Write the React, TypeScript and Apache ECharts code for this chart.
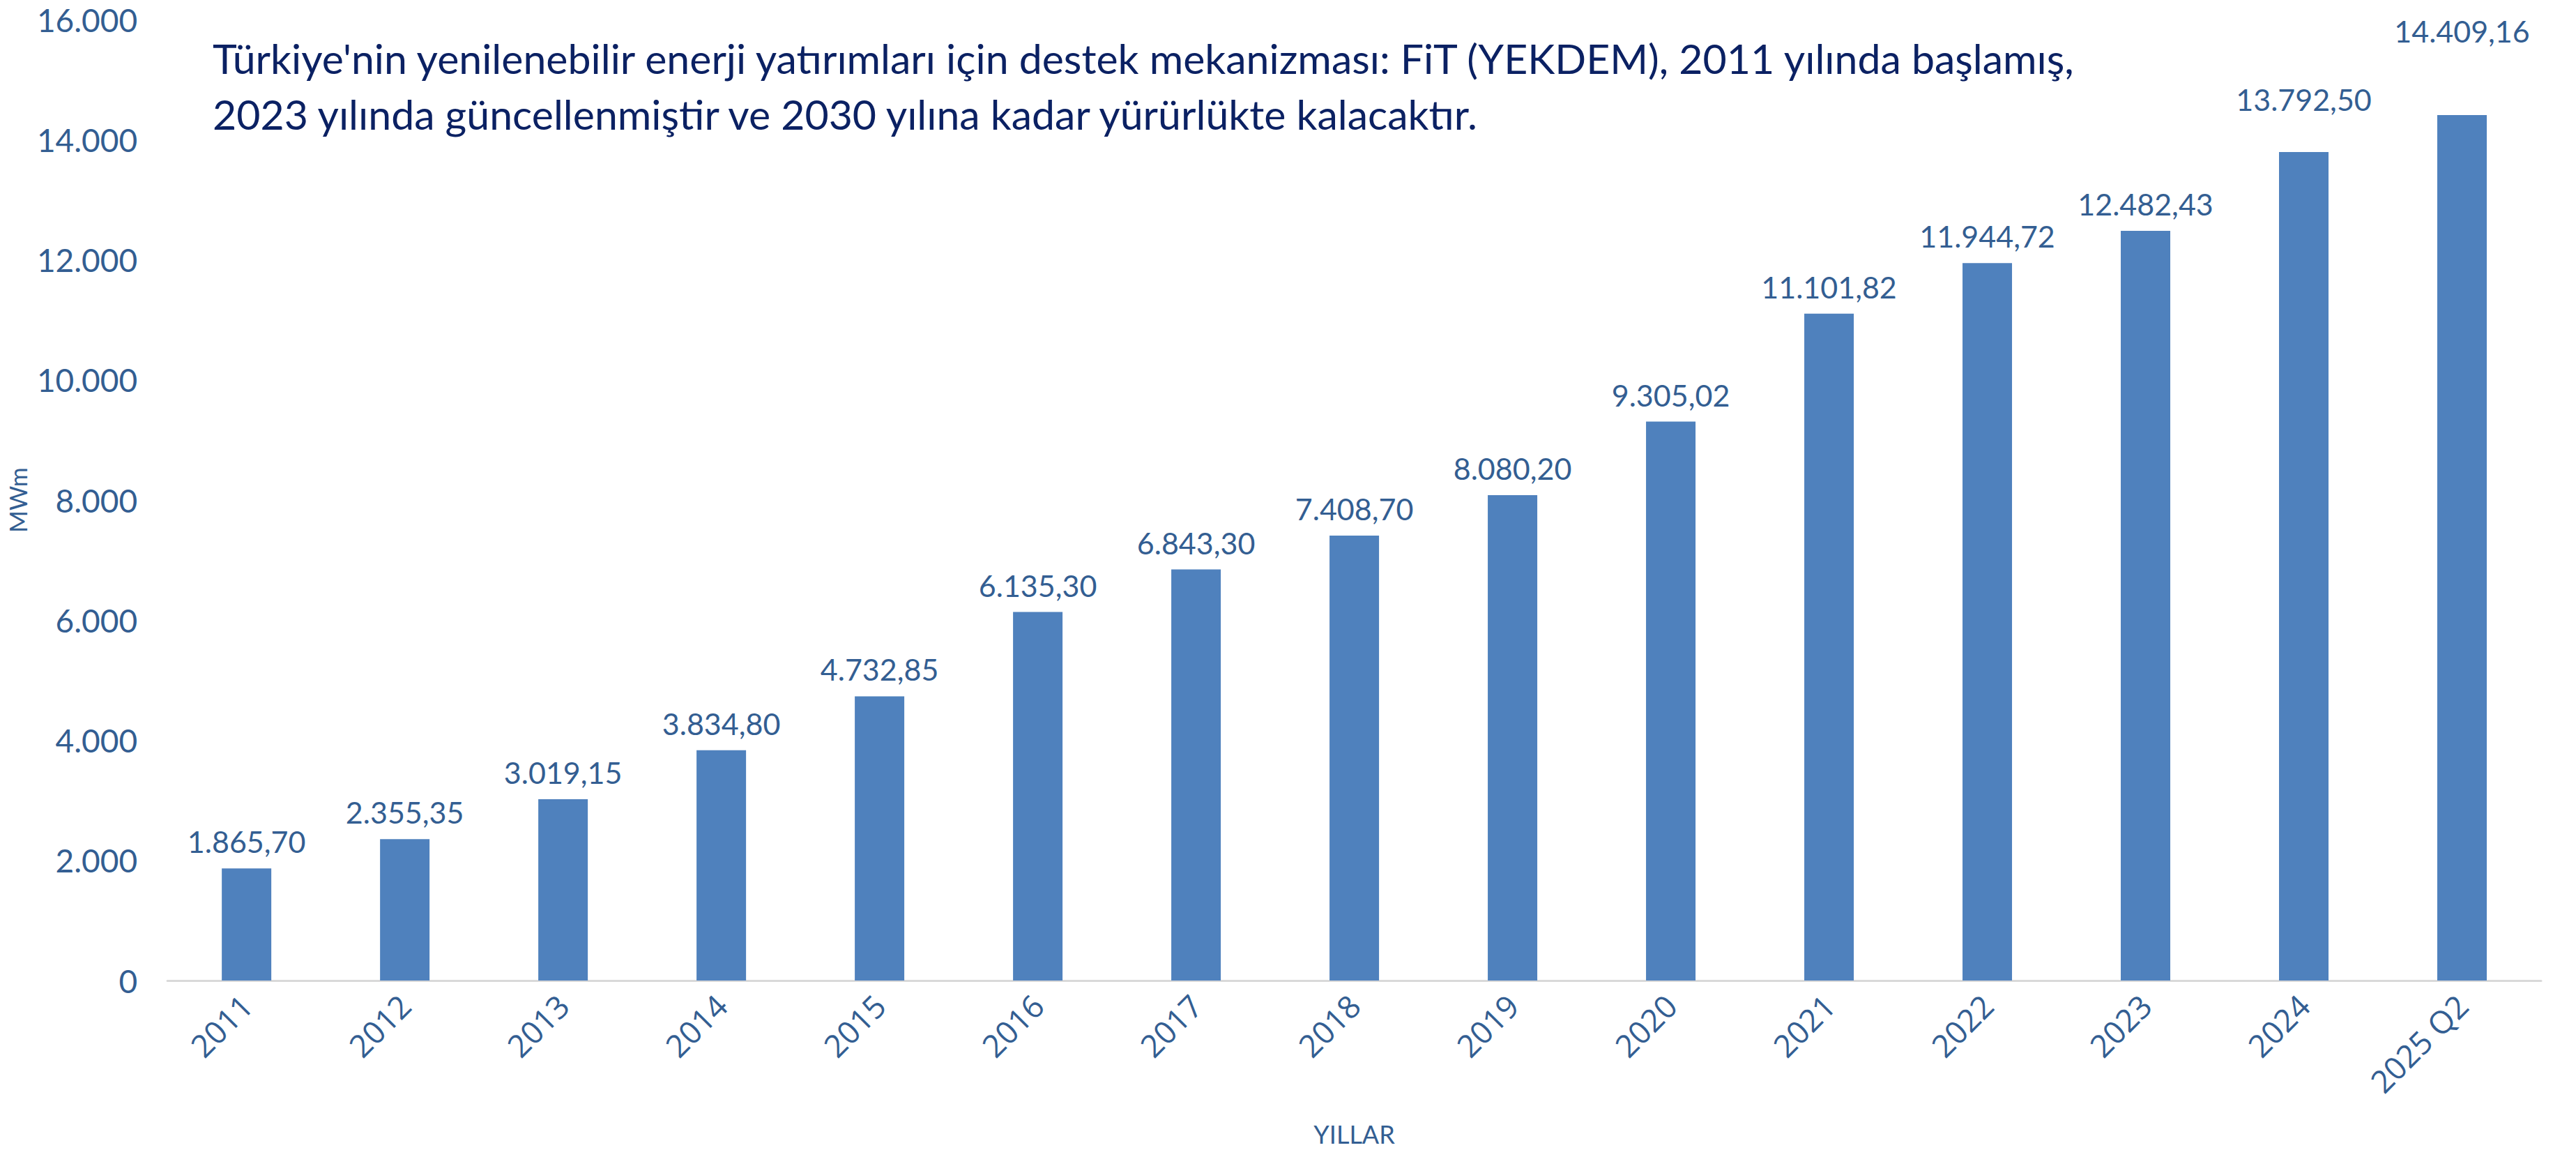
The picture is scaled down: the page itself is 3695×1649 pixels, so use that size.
import React, { useEffect, useRef } from "react";
import * as echarts from "echarts";

const CATEGORIES: string[] = [
  "2011", "2012", "2013", "2014", "2015", "2016", "2017", "2018",
  "2019", "2020", "2021", "2022", "2023", "2024", "2025 Q2",
];
const VALUES: number[] = [
  1865.7, 2355.35, 3019.15, 3834.8, 4732.85, 6135.3, 6843.3, 7408.7,
  8080.2, 9305.02, 11101.82, 11944.72, 12482.43, 13792.5, 14409.16,
];
const Y_MIN = 0;
const Y_MAX = 16000;
const Y_INTERVAL = 2000;
const TITLE_LINES: string[] = [
  "Türkiye'nin yenilenebilir enerji yatırımları için destek mekanizması: FiT (YEKDEM), 2011 yılında başlamış,",
  "2023 yılında güncellenmiştir ve 2030 yılına kadar yürürlükte kalacaktır.",
];
const Y_NAME = "MWm";
const X_NAME = "YILLAR";

// extra lift (px) for labels that were moved by hand in the original
const LABEL_LIFT: Record<string, number> = { "2024": 37, "2025 Q2": 82 };

const LABEL_COLOR = "#335E92";
const BAR_COLOR = "#4F81BD";
const TITLE_COLOR = "#0B2163";

function thousands(n: string): string {
  return n.replace(/\B(?=(\d{3})+(?!\d))/g, ".");
}
function fmtValue(v: number): string {
  const [i, d] = v.toFixed(2).split(".");
  return thousands(i) + "," + d;
}

export default function App() {
  const ref = useRef<HTMLDivElement>(null);
  useEffect(() => {
    if (!ref.current) return;
    const chart = echarts.init(ref.current, null, { renderer: "svg" });
    const baseDist = 17;
    chart.setOption({
      animation: false,
      backgroundColor: "#ffffff",
      title: {
        text: TITLE_LINES.join("\n"),
        left: 300,
        top: 38,
        textStyle: {
          fontFamily: "Lato, 'Liberation Sans', sans-serif",
          fontSize: 59,
          fontWeight: "normal",
          color: TITLE_COLOR,
          lineHeight: 80,
        },
      },
      grid: { left: 236, right: 50, top: 28, bottom: 240, containLabel: false },
      xAxis: {
        type: "category",
        data: CATEGORIES,
        name: X_NAME,
        nameLocation: "middle",
        nameGap: 202,
        nameTextStyle: {
          fontFamily: "Lato, 'Liberation Sans', sans-serif",
          fontSize: 36,
          color: LABEL_COLOR,
        },
        axisLine: { show: true, lineStyle: { color: "#D9D9D9", width: 3 } },
        axisTick: { show: false },
        axisLabel: {
          rotate: 45,
          margin: 28,
          fontFamily: "'Open Sans', sans-serif",
          fontSize: 45,
          color: LABEL_COLOR,
        },
      },
      yAxis: {
        type: "value",
        min: Y_MIN,
        max: Y_MAX,
        interval: Y_INTERVAL,
        name: Y_NAME,
        nameLocation: "middle",
        nameRotate: 90,
        nameGap: 188,
        nameTextStyle: {
          fontFamily: "Lato, 'Liberation Sans', sans-serif",
          fontSize: 34,
          color: LABEL_COLOR,
        },
        axisLine: { show: false },
        axisTick: { show: false },
        splitLine: { show: false },
        axisLabel: {
          margin: 43,
          fontFamily: "Lato, 'Liberation Sans', sans-serif",
          fontSize: 46,
          color: LABEL_COLOR,
          formatter: (v: number) => thousands(String(Math.round(v))),
        },
      },
      series: [
        {
          type: "bar",
          barWidth: 71,
          itemStyle: { color: BAR_COLOR },
          data: VALUES.map((v, i) => ({
            value: v,
            label: { distance: baseDist + (LABEL_LIFT[CATEGORIES[i]] || 0) },
          })),
          label: {
            show: true,
            position: "top",
            fontFamily: "Lato, 'Liberation Sans', sans-serif",
            fontSize: 43,
            color: LABEL_COLOR,
            formatter: (p: any) => fmtValue(p.value),
          },
        },
      ],
    });
    return () => chart.dispose();
  }, []);
  return (
    <div
      ref={ref}
      style={{ position: "absolute", left: 0, top: 0, width: 3695, height: 1649 }}
    />
  );
}
